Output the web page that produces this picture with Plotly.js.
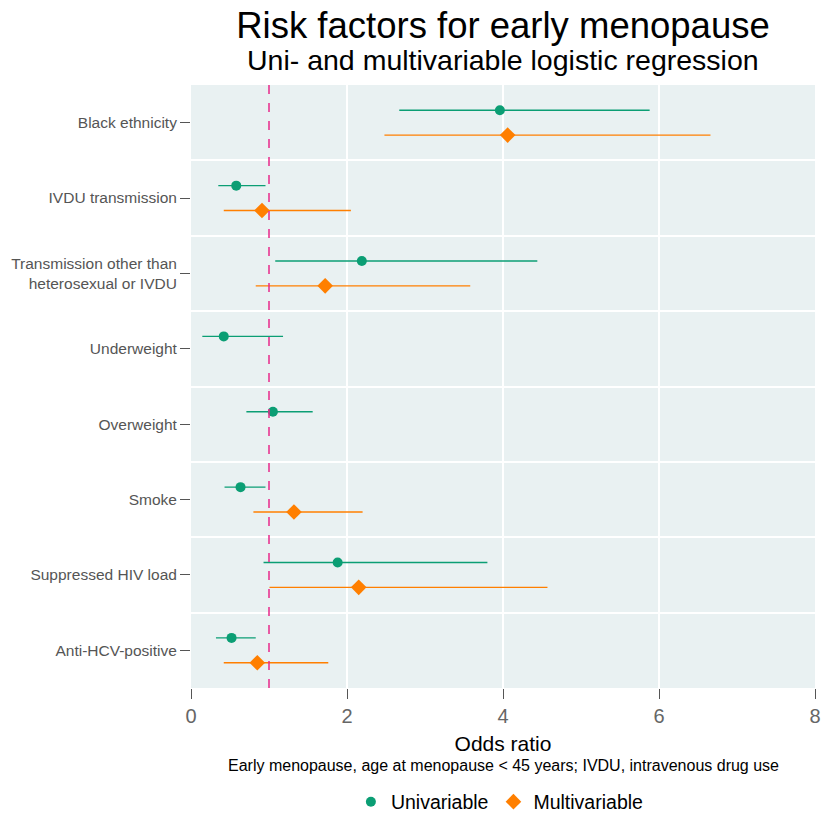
<!DOCTYPE html>
<html>
<head>
<meta charset="utf-8">
<script src="https://cdn.plot.ly/plotly-3.0.1.min.js"></script>
<style>html,body{margin:0;padding:0;background:#fff;}</style>
</head>
<body>
<div id="chart" style="width:821px;height:815px;"></div>
<script>
const categories = ["Black ethnicity", "IVDU transmission", "Transmission other than<br>heterosexual or IVDU", "Underweight", "Overweight", "Smoke", "Suppressed HIV load", "Anti-HCV-positive"];

const uniOR   = [3.96, 0.58, 2.19, 0.42, 1.05, 0.635, 1.88, 0.52];
const uniLow  = [2.67, 0.35, 1.08, 0.145, 0.71, 0.43, 0.93, 0.32];
const uniHigh = [5.88, 0.955, 4.44, 1.18, 1.56, 0.955, 3.80, 0.83];

const multiCats = [0, 1, 2, 5, 6, 7];
const multiOR   = [4.06, 0.91, 1.72, 1.32, 2.15, 0.85];
const multiLow  = [2.48, 0.42, 0.83, 0.80, 1.006, 0.42];
const multiHigh = [6.66, 2.05, 3.58, 2.20, 4.57, 1.76];

const xTicks = [0, 2, 4, 6, 8];
const refLine = 1;

const OFF = 0.165;
const font = "Liberation Sans, Arial, sans-serif";
const green = "#0B9E74", orange = "#FF7F00";

const uni = {
  type: "scatter", mode: "markers", name: "Univariable",
  x: uniOR,
  y: categories.map((c, i) => i - OFF),
  error_x: {type: "data", symmetric: false,
    array: uniOR.map((v, i) => uniHigh[i] - v),
    arrayminus: uniOR.map((v, i) => v - uniLow[i]),
    width: 0, thickness: 1.4, color: green},
  marker: {symbol: "circle", size: 10, color: green},
  hoverinfo: "x"
};
const multi = {
  type: "scatter", mode: "markers", name: "Multivariable",
  x: multiOR,
  y: multiCats.map(i => i + OFF),
  error_x: {type: "data", symmetric: false,
    array: multiOR.map((v, i) => multiHigh[i] - v),
    arrayminus: multiOR.map((v, i) => v - multiLow[i]),
    width: 0, thickness: 1.4, color: orange},
  marker: {symbol: "diamond", size: 12, color: orange},
  hoverinfo: "x"
};

const layout = {
  width: 821, height: 815,
  margin: {l: 191, r: 6, t: 85, b: 127, autoexpand: false},
  paper_bgcolor: "#ffffff",
  plot_bgcolor: "#E9F1F2",
  font: {family: font, color: "#000"},
  title: {
    text: "Risk factors for early menopause",
    font: {size: 36.5, color: "#000", family: font},
    x: 0.5, xref: "paper", xanchor: "center",
    y: 1 - 25 / 815, yref: "container", yanchor: "middle"
  },
  annotations: [
    {text: "Uni- and multivariable logistic regression", xref: "paper", yref: "paper",
     x: 0.5, y: 1.0, yshift: 25, xanchor: "center", yanchor: "middle", showarrow: false,
     font: {size: 28.5, color: "#000", family: font}},
    {text: "Early menopause, age at menopause < 45 years; IVDU, intravenous drug use",
     xref: "paper", yref: "paper", x: 0.5, y: 0, yshift: -77, xanchor: "center", yanchor: "middle",
     showarrow: false, font: {size: 16, color: "#000", family: font}}
  ],
  xaxis: {
    range: [0, 8], tickvals: xTicks, ticktext: xTicks.map(String),
    showgrid: true, gridcolor: "#ffffff", gridwidth: 1.5,
    zeroline: false, showline: false,
    ticks: "outside", ticklen: 10, tickcolor: "#555", tickwidth: 1,
    tickfont: {size: 20, color: "#666", family: font},
    title: {text: "Odds ratio", font: {size: 21, color: "#000", family: font}, standoff: 10}
  },
  yaxis: {
    range: [7.5, -0.5],
    tickvals: categories.map((c, i) => i), ticktext: categories,
    showgrid: false, zeroline: false, showline: false,
    ticks: "outside", ticklen: 10, tickcolor: "#555", tickwidth: 1,
    tickfont: {size: 15.5, color: "#555", family: font},
    minor: {tickvals: [-0.5, 0.5, 1.5, 2.5, 3.5, 4.5, 5.5, 6.5], showgrid: true,
            gridcolor: "#ffffff", gridwidth: 2, ticks: ""}
  },
  shapes: [
    {type: "line", xref: "x", yref: "paper", x0: refLine, x1: refLine, y0: 0, y1: 1,
     line: {color: "#E7298A", width: 1.5, dash: "dash"}, layer: "above"}
  ],
  showlegend: true,
  legend: {orientation: "h", x: 0.495, xanchor: "center", y: (688 - 802) / 603, yanchor: "middle",
           font: {size: 19.5, color: "#000", family: font}, itemwidth: 30, tracegroupgap: 0,
           borderwidth: 0, bgcolor: "rgba(0,0,0,0)"},
  hovermode: "closest"
};

Plotly.newPlot("chart", [uni, multi], layout, {displayModeBar: false, staticPlot: true});
</script>
</body>
</html>
